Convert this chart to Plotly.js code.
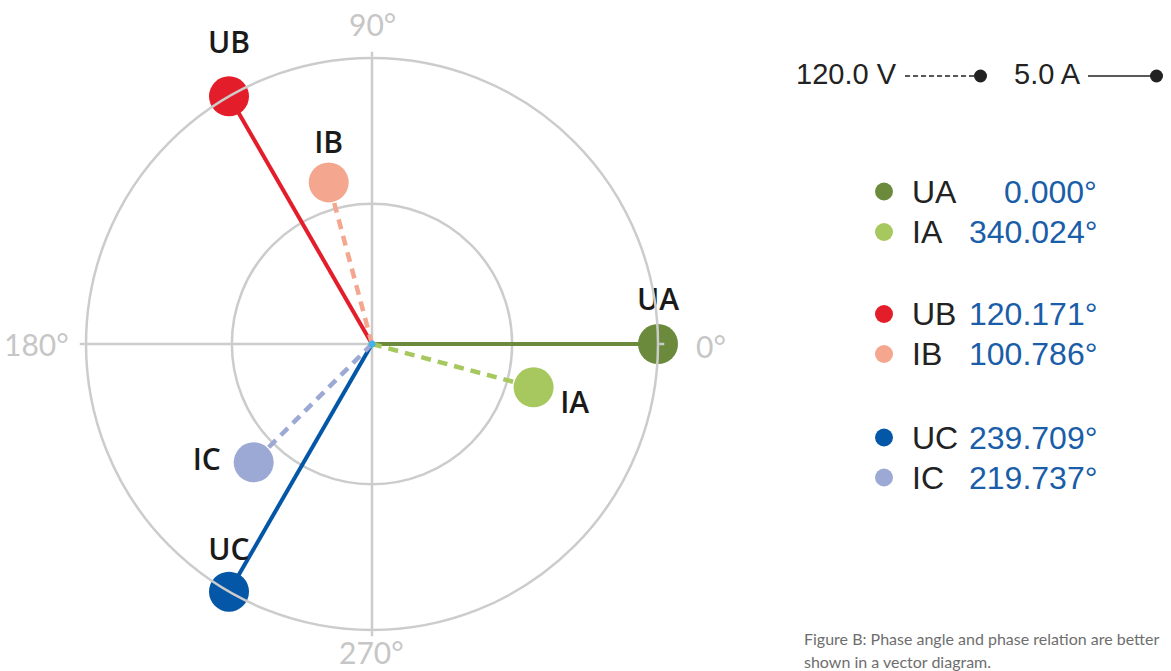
<!DOCTYPE html>
<html><head><meta charset="utf-8">
<script src="https://cdn.plot.ly/plotly-3.0.1.min.js"></script>
<style>html,body{margin:0;padding:0;background:#fff}#chart{width:1171px;height:671px}</style>
</head><body><div id="chart"></div>
<script>
// ---- data ----
const phasors = ['UA', 'IA', 'UB', 'IB', 'UC', 'IC'];
const phaseText = ['0.000°', '340.024°', '120.171°', '100.786°', '239.709°', '219.737°'];
const vectorAngle = [0, 345, 120, 105, 240, 225];          // angle as drawn in the diagram (deg)
const vectorLength = [1.0, 0.585, 1.0, 0.585, 1.0, 0.585];  // relative to outer ring
const isCurrent = [false, true, false, true, false, true];
const angleTicks = [0, 90, 180, 270];
const angleTickText = ['0°', '90°', '180°', '270°'];
const innerRing = [0.49];
const scaleLabels = ['120.0 V', '5.0 A'];
const captionLines = ['Figure B: Phase angle and phase relation are better', 'shown in a vector diagram.'];

// ---- styles ----
const colors = ['#6b8a3b', '#a6c85e', '#e31e2a', '#f4a78e', '#0457a6', '#9ca9d4'];
const labelPos = ['top center', 'bottom right', 'top center', 'top center', 'top center', 'middle left'];
const labelPad = [40.5, 3.5, 56, 33, 36.5, 51];
const labelPrefix = ['', '\u00a0\u00a0\u00a0', '', '', '', ''];
const legendRowY = [191.5, 232, 314, 354, 437.5, 477.5];
const captionRowY = [638, 661];
const W = 1171, H = 671;
const px = x => x / W, py = y => 1 - y / H;
const GRID = '#cccccc';
const SANS = '"Liberation Sans", Arial, sans-serif';

const traces = [];
phasors.forEach((p, i) => {
  traces.push({
    type: 'scatterpolar', mode: 'lines',
    r: [0, vectorLength[i]], theta: [vectorAngle[i], vectorAngle[i]],
    line: {color: colors[i], width: isCurrent[i] ? 4.5 : 4, dash: isCurrent[i] ? '10px,7px' : 'solid'},
    hoverinfo: 'skip', showlegend: false
  });
});
traces.push({
  type: 'scatterpolar', mode: 'markers',
  r: vectorLength, theta: vectorAngle,
  marker: {size: 40, color: colors, line: {width: 0}},
  hoverinfo: 'skip', showlegend: false
});
traces.push({
  type: 'scatterpolar', mode: 'markers+text',
  r: vectorLength, theta: vectorAngle,
  text: phasors.map((p, i) => labelPrefix[i] + p),
  textposition: labelPos,
  textfont: {family: '"Open Sans", sans-serif', size: 30, color: '#1a1a1a', weight: 600},
  marker: {size: labelPad, opacity: 0},
  hoverinfo: 'skip', showlegend: false, cliponaxis: false
});
traces.push({
  type: 'scatterpolar', mode: 'markers', r: [0], theta: [0],
  marker: {size: 7, color: '#45b3e7'}, hoverinfo: 'skip', showlegend: false
});

const annotations = [];
const shapes = [];
// angular tick labels
const tickLabelPos = [
  {x: 694, y: 346, xa: 'left'}, {x: 372, y: 24, xa: 'center'},
  {x: 71, y: 344, xa: 'right'}, {x: 371, y: 652, xa: 'center'}
];
angleTicks.forEach((t, i) => {
  annotations.push({
    xref: 'paper', yref: 'paper', x: px(tickLabelPos[i].x), y: py(tickLabelPos[i].y),
    xanchor: tickLabelPos[i].xa, yanchor: 'middle', showarrow: false,
    text: angleTickText[i], font: {family: 'Lato, sans-serif', size: 30, color: '#c6c6c6'}
  });
});
// legend rows
phasors.forEach((p, i) => {
  const y = legendRowY[i];
  shapes.push({type: 'circle', xref: 'paper', yref: 'paper',
    x0: px(875), x1: px(893), y0: py(y + 9), y1: py(y - 9),
    fillcolor: colors[i], line: {width: 0}});
  annotations.push({xref: 'paper', yref: 'paper', x: px(910), y: py(y),
    xanchor: 'left', yanchor: 'middle', showarrow: false, text: p,
    font: {family: SANS, size: 32, color: '#222222'}});
  annotations.push({xref: 'paper', yref: 'paper', x: px(1099), y: py(y),
    xanchor: 'right', yanchor: 'middle', showarrow: false, text: phaseText[i],
    font: {family: SANS, size: 32, color: '#1a5da8'}});
});
// scale indicators
annotations.push({xref: 'paper', yref: 'paper', x: px(899), y: py(74), xanchor: 'right', yanchor: 'middle',
  showarrow: false, text: scaleLabels[0], font: {family: SANS, size: 29, color: '#222222'}});
annotations.push({xref: 'paper', yref: 'paper', x: px(1012), y: py(74), xanchor: 'left', yanchor: 'middle',
  showarrow: false, text: scaleLabels[1], font: {family: SANS, size: 29, color: '#222222'}});
shapes.push({type: 'line', xref: 'paper', yref: 'paper', x0: px(905), x1: px(980), y0: py(76), y1: py(76),
  line: {color: '#222222', width: 1.5, dash: '5px,3px'}});
shapes.push({type: 'circle', xref: 'paper', yref: 'paper', x0: px(974), x1: px(987), y0: py(82.5), y1: py(69.5),
  fillcolor: '#222222', line: {width: 0}});
shapes.push({type: 'line', xref: 'paper', yref: 'paper', x0: px(1088), x1: px(1156), y0: py(76), y1: py(76),
  line: {color: '#222222', width: 1.5}});
shapes.push({type: 'circle', xref: 'paper', yref: 'paper', x0: px(1150), x1: px(1163), y0: py(82.5), y1: py(69.5),
  fillcolor: '#222222', line: {width: 0}});
// caption
captionLines.forEach((line, i) => {
  annotations.push({xref: 'paper', yref: 'paper', x: px(802), y: py(captionRowY[i]), xanchor: 'left', yanchor: 'middle',
    showarrow: false, align: 'left', text: line,
    font: {family: 'Lato, sans-serif', size: 16, color: '#6e6e6e'}});
});

const layout = {
  width: W, height: H, margin: {l: 0, r: 0, t: 0, b: 0},
  paper_bgcolor: '#ffffff', showlegend: false,
  polar: {
    domain: {x: [px(86), px(658)], y: [py(630), py(58)]},
    bgcolor: 'rgba(0,0,0,0)',
    radialaxis: {range: [0, 1], tickvals: innerRing, showticklabels: false, ticks: '',
      showline: false, gridcolor: GRID, gridwidth: 2.5},
    angularaxis: {rotation: 0, direction: 'counterclockwise', tickvals: angleTicks, ticktext: angleTickText,
      showticklabels: false, ticks: 'outside', ticklen: 5, tickwidth: 2.5, tickcolor: GRID,
      showline: true, linecolor: GRID, linewidth: 2.5, gridcolor: GRID, gridwidth: 2.5}
  },
  annotations: annotations, shapes: shapes
};
Plotly.newPlot('chart', traces, layout, {staticPlot: true});
</script>
</body></html>
